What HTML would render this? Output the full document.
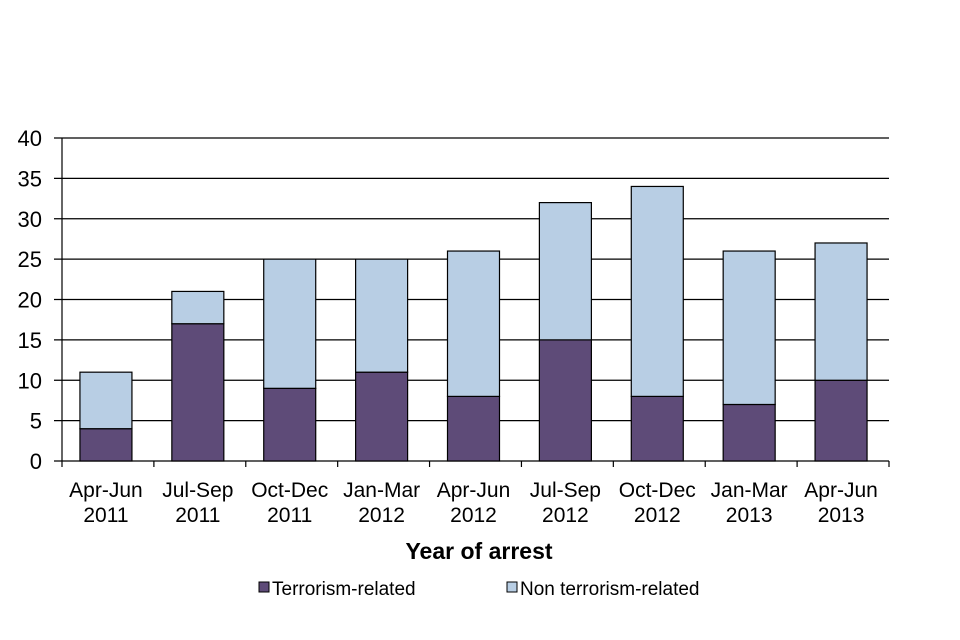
<!DOCTYPE html>
<html><head><meta charset="utf-8"><style>
html,body{margin:0;padding:0;background:#fff;}
svg{display:block;font-family:"Liberation Sans",Arial,sans-serif;}
</style></head><body>
<svg id="chart" width="960" height="640" viewBox="0 0 960 640"></svg>
<script>
const categories=[["Apr-Jun","2011"],["Jul-Sep","2011"],["Oct-Dec","2011"],["Jan-Mar","2012"],["Apr-Jun","2012"],["Jul-Sep","2012"],["Oct-Dec","2012"],["Jan-Mar","2013"],["Apr-Jun","2013"]];
const terrorism=[4,17,9,11,8,15,8,7,10];
const nonTerrorism=[7,4,16,14,18,17,26,19,17];
const yTicks=[0,5,10,15,20,25,30,35,40];

const NS="http://www.w3.org/2000/svg";
const svg=document.getElementById('chart');
const X0=62,X1=889,Y0=461,Y1=138,YMAX=40;
const band=(X1-X0)/categories.length;
const bw=52;
const y=v=>Y0-(v/YMAX)*(Y0-Y1);
const xc=i=>X0+band*(i+0.5)-2;
function mk(tag,attrs,parent){const e=document.createElementNS(NS,tag);for(const k in attrs)e.setAttribute(k,attrs[k]);(parent||svg).appendChild(e);return e;}

const grid=mk('g',{});


yTicks.forEach(t=>{
  const l=mk('line',{x1:54,x2:X1,y1:y(t),y2:y(t),stroke:'#000','stroke-width':1.2},grid);
  
  
  const tx=mk('text',{x:42,y:y(t)+8,'text-anchor':'end','font-size':22,fill:'#000'});
  tx.textContent=t;
  
  
});
const ax=mk('line',{x1:X0,x2:X0,y1:Y1,y2:Y0,stroke:'#000','stroke-width':1.2});


for(let i=0;i<=categories.length;i++){
  const t=mk('line',{x1:X0+band*i,x2:X0+band*i,y1:Y0,y2:Y0+6,stroke:'#000','stroke-width':1.2});
  
  
}
categories.forEach((c,i)=>{
  const b1=mk('rect',{x:xc(i)-bw/2,y:y(terrorism[i]),width:bw,height:Y0-y(terrorism[i]),fill:'#5e4b78',stroke:'#000','stroke-width':1.2});
  
  
  const tot=terrorism[i]+nonTerrorism[i];
  const b2=mk('rect',{x:xc(i)-bw/2,y:y(tot),width:bw,height:y(terrorism[i])-y(tot),fill:'#b8cee4',stroke:'#000','stroke-width':1.2});
  
  
  c.forEach((s,j)=>{
    const t=mk('text',{x:xc(i),y:497+j*25,'text-anchor':'middle','font-size':21,fill:'#000'});
    t.textContent=s;
    
    
  });
});
const xt=mk('text',{x:479,y:559,'text-anchor':'middle','font-size':23,'font-weight':'bold',fill:'#000'});
xt.textContent='Year of arrest';


const legend=[['Terrorism-related','#5e4b78',259],['Non terrorism-related','#b8cee4',507]];
legend.forEach(([lab,col,lx])=>{
  const g=mk('g',{});
  
  
  mk('rect',{x:lx,y:582,width:10,height:10,fill:col,stroke:'#000','stroke-width':1},g);
  const t=mk('text',{x:lx+13,y:595,'font-size':19,fill:'#000'},g);
  t.textContent=lab;
});
</script>
</body></html>
